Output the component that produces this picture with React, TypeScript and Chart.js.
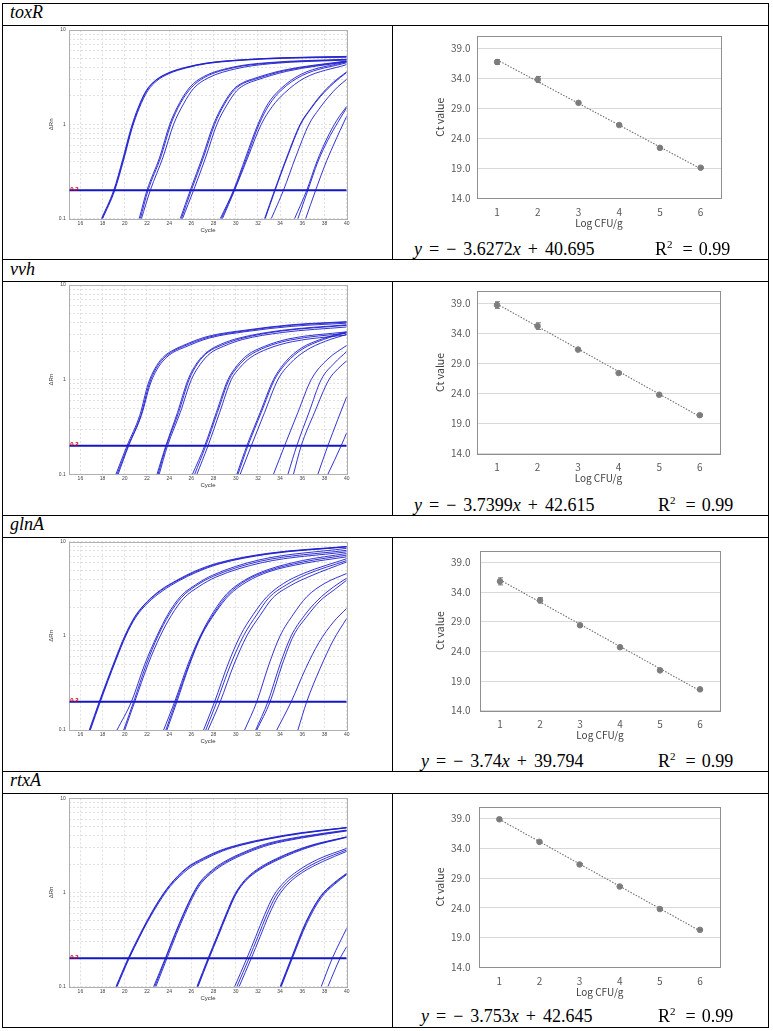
import React, { useEffect, useRef } from 'react';
import { Chart, registerables } from 'chart.js';

Chart.register(...registerables);

type Pt = [number, number];

// ---------------- shared axis values ----------------
const geneNames = ['toxR', 'vvh', 'glnA', 'rtxA'];
const logCfuLevels = [1, 2, 3, 4, 5, 6];
const cycleTickValues = [16, 18, 20, 22, 24, 26, 28, 30, 32, 34, 36, 38, 40];
const cycleMin = 15;
const cycleMax = 40;
const deltaRnGridValues = [0.1, 0.2, 0.3, 0.4, 0.5, 0.6, 0.7, 0.8, 0.9, 1, 2, 3, 4, 5, 6, 7, 8, 9, 10];
const deltaRnLabelled = [0.1, 1, 10];
const thresholdValue = 0.2;
const ctTickValues = [14, 19, 24, 29, 34, 39];
const ctMin = 14;
const ctMax = 41;

// ---------------- amplification curves [cycle, ΔRn] ----------------
const toxRCurves: Pt[][] = [
  [[17.9, 0.1], [19.0, 0.2], [19.8, 0.42], [20.55, 0.9], [21.2, 1.5], [21.95, 2.3], [22.8, 2.95], [23.9, 3.5], [25.4, 4.0], [27.3, 4.45], [30.2, 4.8], [34, 5.05], [40, 5.2]],
  [[17.95, 0.1], [19.05, 0.2], [19.85, 0.42], [20.6, 0.9], [21.25, 1.5], [22.0, 2.3], [22.85, 2.95], [23.95, 3.5], [25.5, 4.0], [27.4, 4.45], [30.3, 4.8], [34, 5.07], [40, 5.25]],
  [[18.0, 0.1], [19.1, 0.2], [19.9, 0.42], [20.65, 0.9], [21.3, 1.48], [22.05, 2.25], [22.9, 2.9], [24.0, 3.45], [25.5, 3.95], [27.4, 4.4], [30.3, 4.75], [34.1, 5.0], [40, 5.15]],
  [[21.3, 0.1], [22.0, 0.2], [23.15, 0.45], [24.05, 1.0], [24.95, 1.7], [25.9, 2.5], [27.1, 3.2], [29.8, 4.05], [32.8, 4.5], [40, 4.9]],
  [[21.4, 0.1], [22.1, 0.2], [23.25, 0.45], [24.15, 1.0], [25.05, 1.7], [26.0, 2.45], [27.2, 3.15], [29.9, 4.0], [32.9, 4.45], [40, 4.85]],
  [[21.5, 0.1], [22.3, 0.2], [23.45, 0.45], [24.4, 1.0], [25.3, 1.65], [26.2, 2.4], [27.5, 3.1], [30.1, 3.9], [33.2, 4.4], [40, 4.8]],
  [[25.0, 0.1], [25.9, 0.2], [27.0, 0.45], [28.0, 1.0], [28.9, 1.65], [29.8, 2.35], [30.6, 2.75], [31.6, 3.05], [34.3, 3.75], [40, 4.7]],
  [[25.1, 0.1], [26.0, 0.2], [27.1, 0.45], [28.1, 1.0], [29.0, 1.65], [29.9, 2.33], [30.7, 2.72], [31.7, 3.0], [34.4, 3.7], [40, 4.65]],
  [[25.2, 0.1], [26.2, 0.2], [27.3, 0.45], [28.3, 1.0], [29.2, 1.6], [30.1, 2.28], [30.9, 2.66], [31.9, 2.95], [34.6, 3.65], [40, 4.6]],
  [[28.6, 0.1], [29.8, 0.2], [30.9, 0.45], [32.0, 1.0], [32.9, 1.65], [34.0, 2.35], [35.9, 3.4], [40, 4.6]],
  [[28.7, 0.1], [29.85, 0.2], [31.0, 0.45], [32.1, 1.0], [33.0, 1.6], [34.1, 2.3], [36.0, 3.3], [40, 4.5]],
  [[28.8, 0.1], [29.9, 0.2], [31.1, 0.45], [32.3, 1.0], [33.3, 1.55], [34.4, 2.15], [36.2, 3.1], [40, 4.3]],
  [[32.6, 0.1], [33.5, 0.2], [34.6, 0.45], [35.8, 1.0], [36.7, 1.45], [37.6, 2.0], [38.8, 2.8], [40, 3.6]],
  [[32.65, 0.1], [33.55, 0.2], [34.65, 0.45], [35.85, 1.0], [36.75, 1.45], [37.65, 1.98], [38.85, 2.75], [40, 3.55]],
  [[33.2, 0.1], [34.3, 0.2], [35.4, 0.45], [36.6, 1.0], [37.5, 1.45], [38.4, 1.98], [39.2, 2.5], [40, 3.0]],
  [[35.3, 0.1], [36.4, 0.2], [37.3, 0.4], [38.2, 0.7], [39.1, 1.1], [40, 1.55]],
  [[35.6, 0.1], [36.5, 0.2], [37.4, 0.4], [38.3, 0.68], [39.2, 1.05], [40, 1.5]],
  [[36.3, 0.1], [37.2, 0.2], [38.0, 0.36], [38.8, 0.6], [39.4, 0.86], [40, 1.22]],
];

const vvhCurves: Pt[][] = [
  [[19.2, 0.1], [20.2, 0.2], [21.35, 0.42], [22.1, 0.9], [22.7, 1.3], [23.4, 1.7], [24.2, 2.0], [25.2, 2.28], [27.4, 2.85], [31, 3.35], [35, 3.8], [40, 4.1]],
  [[19.3, 0.1], [20.3, 0.2], [21.45, 0.42], [22.2, 0.9], [22.8, 1.3], [23.5, 1.68], [24.3, 1.98], [25.3, 2.25], [27.5, 2.8], [31, 3.3], [35, 3.75], [40, 4.05]],
  [[19.4, 0.1], [20.35, 0.2], [21.5, 0.42], [22.3, 0.9], [22.9, 1.28], [23.6, 1.65], [24.4, 1.95], [25.4, 2.2], [27.6, 2.75], [31.2, 3.25], [35, 3.65], [40, 3.95]],
  [[22.9, 0.1], [23.7, 0.2], [24.75, 0.45], [25.7, 1.0], [26.5, 1.5], [27.4, 1.95], [28.6, 2.35], [30.3, 2.75], [34, 3.3], [40, 3.8]],
  [[23.0, 0.1], [23.75, 0.2], [24.85, 0.45], [25.8, 1.0], [26.6, 1.5], [27.5, 1.95], [28.7, 2.3], [30.4, 2.7], [34, 3.25], [40, 3.75]],
  [[23.1, 0.1], [23.85, 0.2], [25.0, 0.45], [26.0, 1.0], [26.8, 1.45], [27.7, 1.9], [28.9, 2.25], [30.6, 2.65], [34.2, 3.15], [40, 3.6]],
  [[26.1, 0.1], [27.2, 0.2], [28.25, 0.45], [29.3, 1.0], [30.1, 1.4], [31.0, 1.8], [32.6, 2.25], [34.8, 2.7], [40, 3.2]],
  [[26.3, 0.1], [27.3, 0.2], [28.35, 0.45], [29.4, 1.0], [30.2, 1.38], [31.1, 1.75], [32.7, 2.2], [34.9, 2.62], [40, 3.1]],
  [[26.5, 0.1], [27.5, 0.2], [28.55, 0.45], [29.6, 1.0], [30.4, 1.35], [31.3, 1.7], [32.9, 2.12], [35.1, 2.52], [40, 2.97]],
  [[30.1, 0.1], [31.0, 0.2], [32.2, 0.45], [33.4, 1.0], [34.5, 1.55], [35.9, 2.15], [37.8, 2.7], [40, 3.2]],
  [[30.2, 0.1], [31.1, 0.2], [32.3, 0.45], [33.5, 1.0], [34.6, 1.52], [36.0, 2.1], [37.9, 2.65], [40, 3.15]],
  [[30.4, 0.1], [31.4, 0.2], [32.6, 0.45], [33.8, 1.0], [34.9, 1.48], [36.3, 2.02], [38.1, 2.55], [40, 3.0]],
  [[33.4, 0.1], [34.4, 0.2], [35.6, 0.45], [36.8, 1.0], [38.3, 1.65], [40, 2.3]],
  [[34.7, 0.1], [35.5, 0.2], [36.6, 0.45], [37.7, 1.0], [38.9, 1.5], [40, 1.98]],
  [[35.2, 0.1], [35.9, 0.2], [37.1, 0.45], [38.4, 1.0], [39.2, 1.3], [40, 1.58]],
  [[37.4, 0.1], [38.3, 0.2], [39.2, 0.38], [40, 0.66]],
  [[38.3, 0.1], [39.5, 0.2], [40, 0.275]],
];

const glnACurves: Pt[][] = [
  [[16.8, 0.1], [17.7, 0.2], [19.1, 0.55], [20.0, 1.0], [20.9, 1.6], [22.0, 2.3], [23.2, 3.05], [24.7, 3.9], [26.2, 4.8], [28.3, 5.9], [32.8, 7.5], [40, 8.9]],
  [[16.85, 0.1], [17.75, 0.2], [19.15, 0.55], [20.05, 1.0], [20.95, 1.6], [22.05, 2.3], [23.3, 3.05], [24.8, 3.9], [26.3, 4.75], [28.4, 5.85], [32.9, 7.45], [40, 8.85]],
  [[16.9, 0.1], [17.8, 0.2], [19.2, 0.55], [20.1, 1.0], [21.0, 1.58], [22.1, 2.25], [23.4, 3.0], [24.9, 3.85], [26.4, 4.7], [28.5, 5.8], [33, 7.4], [40, 8.8]],
  [[19.3, 0.1], [20.6, 0.2], [21.8, 0.5], [22.9, 1.0], [23.9, 1.7], [25.0, 2.6], [26.4, 3.5], [27.9, 4.4], [32.1, 6.4], [40, 8.5]],
  [[19.9, 0.1], [20.8, 0.2], [21.95, 0.5], [23.0, 1.0], [24.0, 1.68], [25.1, 2.55], [26.5, 3.45], [28.0, 4.3], [32.2, 6.2], [40, 8.1]],
  [[20.0, 0.1], [20.9, 0.2], [22.1, 0.5], [23.2, 1.0], [24.2, 1.65], [25.3, 2.5], [26.7, 3.35], [28.2, 4.2], [32.4, 6.0], [40, 7.8]],
  [[23.5, 0.1], [24.5, 0.2], [25.7, 0.5], [26.8, 1.0], [28.0, 1.8], [29.2, 2.8], [30.8, 3.9], [32.8, 5.0], [36, 6.3], [40, 7.5]],
  [[23.7, 0.1], [24.6, 0.2], [25.8, 0.5], [26.85, 1.0], [28.1, 1.78], [29.3, 2.75], [30.9, 3.85], [32.9, 4.9], [36.1, 6.1], [40, 7.2]],
  [[23.8, 0.1], [24.7, 0.2], [25.85, 0.5], [26.9, 1.0], [28.15, 1.75], [29.4, 2.7], [31.0, 3.75], [33.0, 4.8], [36.2, 5.9], [40, 6.9]],
  [[27.1, 0.1], [28.1, 0.2], [29.3, 0.5], [30.4, 1.0], [31.6, 1.7], [32.8, 2.6], [34.3, 3.6], [36.1, 4.6], [40, 6.6]],
  [[27.3, 0.1], [28.3, 0.2], [29.55, 0.5], [30.7, 1.0], [31.9, 1.68], [33.0, 2.55], [34.6, 3.5], [36.4, 4.5], [40, 6.3]],
  [[27.5, 0.1], [28.6, 0.2], [29.85, 0.5], [31.0, 1.0], [32.2, 1.65], [33.3, 2.5], [34.9, 3.4], [36.7, 4.3], [40, 6.1]],
  [[30.8, 0.1], [31.9, 0.2], [33.0, 0.5], [34.0, 1.0], [35.2, 1.7], [36.4, 2.6], [38.0, 3.6], [40, 4.6]],
  [[31.8, 0.1], [32.9, 0.2], [34.0, 0.5], [35.0, 1.0], [36.2, 1.65], [37.4, 2.4], [38.8, 3.3], [40, 4.1]],
  [[31.9, 0.1], [33.1, 0.2], [34.2, 0.5], [35.2, 1.0], [36.4, 1.6], [37.6, 2.35], [38.9, 3.1], [40, 3.9]],
  [[33.7, 0.1], [35.0, 0.2], [36.3, 0.45], [37.5, 0.85], [38.8, 1.4], [40, 1.96]],
  [[35.6, 0.1], [36.4, 0.2], [37.6, 0.45], [38.8, 0.9], [40, 1.53]],
];

const rtxACurves: Pt[][] = [
  [[19.2, 0.1], [20.3, 0.2], [21.2, 0.33], [22.0, 0.5], [23.0, 0.8], [24.0, 1.18], [25.5, 1.8], [27.0, 2.3], [28.6, 2.8], [30.4, 3.25], [32.8, 3.75], [35.8, 4.3], [40, 4.9]],
  [[19.25, 0.1], [20.35, 0.2], [21.25, 0.33], [22.05, 0.5], [23.05, 0.8], [24.05, 1.18], [25.6, 1.8], [27.1, 2.28], [28.7, 2.78], [30.5, 3.22], [32.9, 3.72], [35.9, 4.27], [40, 4.88]],
  [[19.3, 0.1], [20.4, 0.2], [21.3, 0.33], [22.1, 0.5], [23.1, 0.79], [24.1, 1.16], [25.7, 1.77], [27.2, 2.25], [28.8, 2.75], [30.6, 3.2], [33.0, 3.7], [36.0, 4.25], [40, 4.85]],
  [[22.6, 0.1], [23.65, 0.2], [24.5, 0.36], [25.3, 0.6], [26.2, 1.0], [26.8, 1.3], [27.8, 1.7], [28.9, 2.1], [30.8, 2.7], [32.8, 3.3], [35.8, 3.9], [40, 4.6]],
  [[22.7, 0.1], [23.7, 0.2], [24.55, 0.36], [25.35, 0.6], [26.25, 1.0], [26.85, 1.29], [27.9, 1.69], [29.0, 2.08], [30.9, 2.67], [32.9, 3.25], [35.9, 3.85], [40, 4.55]],
  [[22.8, 0.1], [23.8, 0.2], [24.65, 0.36], [25.45, 0.6], [26.35, 1.0], [26.95, 1.28], [28.0, 1.67], [29.1, 2.05], [31.0, 2.63], [33.0, 3.2], [36.0, 3.8], [40, 4.5]],
  [[26.5, 0.1], [27.5, 0.2], [28.3, 0.34], [29.1, 0.58], [29.9, 0.95], [30.8, 1.35], [31.9, 1.75], [33.7, 2.3], [36.5, 3.1], [40, 3.9]],
  [[26.55, 0.1], [27.55, 0.2], [28.35, 0.34], [29.15, 0.58], [29.95, 0.95], [30.85, 1.34], [32.0, 1.74], [33.8, 2.28], [36.6, 3.08], [40, 3.88]],
  [[26.6, 0.1], [27.6, 0.2], [28.4, 0.34], [29.2, 0.58], [30.0, 0.95], [30.9, 1.33], [32.1, 1.73], [33.9, 2.25], [36.7, 3.05], [40, 3.85]],
  [[29.9, 0.1], [31.0, 0.2], [31.8, 0.34], [32.6, 0.58], [33.4, 0.92], [34.4, 1.3], [35.6, 1.7], [37.4, 2.25], [40, 2.94]],
  [[30.1, 0.1], [31.2, 0.2], [32.0, 0.34], [32.8, 0.58], [33.6, 0.91], [34.6, 1.28], [35.8, 1.66], [37.6, 2.18], [40, 2.83]],
  [[30.3, 0.1], [31.4, 0.2], [32.2, 0.34], [33.0, 0.58], [33.8, 0.9], [34.8, 1.26], [36.0, 1.63], [37.8, 2.12], [40, 2.73]],
  [[34.0, 0.1], [35.0, 0.2], [36.3, 0.48], [37.6, 0.9], [38.8, 1.25], [40, 1.6]],
  [[34.05, 0.1], [35.05, 0.2], [36.35, 0.48], [37.65, 0.9], [38.85, 1.24], [40, 1.58]],
  [[34.1, 0.1], [35.1, 0.2], [36.4, 0.47], [37.7, 0.88], [38.9, 1.22], [40, 1.55]],
  [[37.7, 0.1], [38.7, 0.2], [40, 0.417]],
  [[38.3, 0.1], [39.4, 0.2], [40, 0.266]],
];

// ---------------- standard curves ----------------
const toxRCt = [36.7, 33.8, 29.9, 26.2, 22.4, 19.1];
const toxRErr = [0.4, 0.5, 0.15, 0.15, 0.15, 0.1];
const toxRTrend = [37.07, 18.93];
const vvhCt = [38.7, 35.2, 31.3, 27.4, 23.8, 20.4];
const vvhErr = [0.55, 0.55, 0.15, 0.15, 0.15, 0.15];
const vvhTrend = [38.88, 20.18];
const glnACt = [35.8, 32.6, 28.4, 24.7, 20.8, 17.6];
const glnAErr = [0.6, 0.45, 0.15, 0.15, 0.2, 0.1];
const glnATrend = [36.05, 17.35];
const rtxACt = [38.9, 35.1, 31.3, 27.6, 23.8, 20.3];
const rtxAErr = [0.2, 0.15, 0.15, 0.15, 0.15, 0.1];
const rtxATrend = [38.89, 20.13];

const slopes = ['3.6272', '3.7399', '3.74', '3.753'];
const intercepts = ['40.695', '42.615', '39.794', '42.645'];
const r2Values = ['0.99', '0.99', '0.99', '0.99'];

const curveSets = [toxRCurves, vvhCurves, glnACurves, rtxACurves];
const ctSets = [toxRCt, vvhCt, glnACt, rtxACt];
const errSets = [toxRErr, vvhErr, glnAErr, rtxAErr];
const trendSets = [toxRTrend, vvhTrend, glnATrend, rtxATrend];

// ---------------- layout (page pixels) ----------------
interface Geo {
  hTop: number; cTop: number; cBot: number;
  ampT: number; ampB: number;
  stdL: number; stdR: number; stdT: number; stdB: number;
  eqBase: number; eqX: number; r2X: number;
}
const rowGeo: Geo[] = [
  { hTop: 3, cTop: 25, cBot: 259.5, ampT: 30, ampB: 218.7, stdL: 476.7, stdR: 721, stdT: 34, stdB: 198.3, eqBase: 255, eqX: 414, r2X: 655 },
  { hTop: 259.5, cTop: 281.5, cBot: 515, ampT: 285, ampB: 474.3, stdL: 476.7, stdR: 720, stdT: 289.3, stdB: 453.7, eqBase: 511.3, eqX: 414, r2X: 658 },
  { hTop: 515, cTop: 537, cBot: 771, ampT: 541.7, ampB: 730, stdL: 480, stdR: 720, stdT: 545.3, stdB: 710.7, eqBase: 767.3, eqX: 421, r2X: 658 },
  { hTop: 771, cTop: 793, cBot: 1027, ampT: 798.3, ampB: 986.7, stdL: 479.3, stdR: 720, stdT: 801.7, stdB: 967.3, eqBase: 1022.3, eqX: 421, r2X: 658 },
];

const ampFont = '"Liberation Sans", Arial, sans-serif';
const stdFont = '"Noto Sans CJK KR", "Noto Sans", sans-serif';
const serifFont = '"Liberation Serif", "Times New Roman", serif';

const framePlugin = (color: string) => ({
  id: 'frame',
  beforeDatasetsDraw(chart: any) {
    const { ctx, chartArea } = chart;
    ctx.save();
    ctx.strokeStyle = color;
    ctx.lineWidth = 1;
    ctx.strokeRect(Math.round(chartArea.left) + 0.5, Math.round(chartArea.top) + 0.5,
      Math.round(chartArea.right) - Math.round(chartArea.left), Math.round(chartArea.bottom) - Math.round(chartArea.top));
    ctx.restore();
  },
});

const thresholdLabelPlugin = {
  id: 'thrLabel',
  afterDatasetsDraw(chart: any) {
    const { ctx, chartArea } = chart;
    const y = chart.scales.y.getPixelForValue(thresholdValue);
    ctx.save();
    ctx.fillStyle = '#c00000';
    ctx.font = `bold 6px ${ampFont}`;
    ctx.textAlign = 'left';
    ctx.textBaseline = 'alphabetic';
    ctx.fillText(String(thresholdValue), chartArea.left + 1, y + 0.5);
    ctx.restore();
  },
};

const errorBarPlugin = (errs: number[]) => ({
  id: 'errbars',
  afterDatasetsDraw(chart: any) {
    const meta = chart.getDatasetMeta(0);
    const ys = chart.scales.y;
    const ctx = chart.ctx;
    ctx.save();
    ctx.strokeStyle = '#7a7a7a';
    ctx.lineWidth = 1;
    meta.data.forEach((el: any, i: number) => {
      const v = chart.data.datasets[0].data[i].y;
      const y1 = ys.getPixelForValue(v + errs[i]);
      const y2 = ys.getPixelForValue(v - errs[i]);
      const x = Math.round(el.x) + 0.5;
      ctx.beginPath();
      ctx.moveTo(x, y1); ctx.lineTo(x, y2);
      ctx.moveTo(x - 2.5, y1); ctx.lineTo(x + 2.5, y1);
      ctx.moveTo(x - 2.5, y2); ctx.lineTo(x + 2.5, y2);
      ctx.stroke();
    });
    ctx.restore();
  },
});

function AmpPlot({ curves, g }: { curves: Pt[][]; g: Geo }) {
  const ref = useRef<HTMLCanvasElement>(null);
  const left = 3;
  const width = 388;
  const top = Math.round(g.ampT) - 10;
  const height = Math.round(g.cBot) - 1 - top;
  useEffect(() => {
    const cl = 69.3 - left;
    const cr = 346.7 - left;
    const ct = g.ampT - top;
    const cb = g.ampB - top;
    const tick = 5;
    const ttl = 6;
    const tLH = ttl * 1.2;
    const kLH = tick * 1.2;
    const padLeft = (51.7 - left) - tLH / 2;
    const yW = cl - padLeft;
    const xH = 11.5 + tLH / 2;
    const datasets: any[] = curves.map((c) => ({
      data: c.map(([x, y]) => ({ x, y })),
      showLine: true,
      borderColor: 'rgba(30,30,205,0.9)',
      borderWidth: 1,
      pointRadius: 0,
      cubicInterpolationMode: 'monotone',
      fill: false,
    }));
    datasets.push({
      data: [{ x: cycleMin, y: thresholdValue }, { x: cycleMax, y: thresholdValue }],
      showLine: true,
      borderColor: '#1414c8',
      borderWidth: 2,
      pointRadius: 0,
    });
    const chart = new Chart(ref.current as HTMLCanvasElement, {
      type: 'scatter',
      data: { datasets },
      options: {
        animation: false,
        responsive: false,
        events: [],
        layout: { padding: { left: padLeft, right: width - cr, top: ct, bottom: height - cb - xH } },
        plugins: { legend: { display: false }, tooltip: { enabled: false } },
        scales: {
          x: {
            type: 'linear', min: cycleMin, max: cycleMax,
            afterBuildTicks: (s: any) => { s.ticks = cycleTickValues.map((v) => ({ value: v })); },
            afterFit: (s: any) => { s.height = xH; },
            grid: { color: '#e0e0e0', drawTicks: false },
            border: { display: false, dash: [2, 2] },
            ticks: { autoSkip: false, maxRotation: 0, padding: 4.5 - kLH / 2, font: { size: tick, family: ampFont }, color: '#444' },
            title: { display: true, text: 'Cycle', padding: 0, font: { size: ttl, family: ampFont }, color: '#333' },
          },
          y: {
            type: 'logarithmic', min: 0.1, max: 10,
            afterBuildTicks: (s: any) => { s.ticks = deltaRnGridValues.map((v) => ({ value: v })); },
            afterFit: (s: any) => { s.width = yW; },
            grid: { color: '#e0e0e0', drawTicks: false },
            border: { display: false, dash: [2, 2] },
            ticks: {
              autoSkip: false, padding: cl - (65.7 - left),
              font: { size: tick, family: ampFont }, color: '#444',
              callback: (v: any) => (deltaRnLabelled.includes(Number(v)) ? String(v) : ''),
            },
            title: { display: true, text: 'ΔRn', padding: 0, font: { size: ttl, family: ampFont }, color: '#333' },
          },
        },
      } as any,
      plugins: [framePlugin('#b0b0b0'), thresholdLabelPlugin],
    });
    return () => chart.destroy();
  }, []);
  return <canvas ref={ref} width={width} height={height} style={{ position: 'absolute', left, top, width, height }} />;
}

function StdPlot({ ct, errs, trend, g }: { ct: number[]; errs: number[]; trend: number[]; g: Geo }) {
  const ref = useRef<HTMLCanvasElement>(null);
  const left = 393;
  const width = 375;
  const top = Math.round(g.stdT) - 10;
  const height = Math.round(g.cBot - 21) - top;
  useEffect(() => {
    const cl = g.stdL - left;
    const cr = g.stdR - left;
    const ctp = g.stdT - top;
    const cb = g.stdB - top;
    const tickSize = 10;
    const yTitleSize = 10.5;
    const xTitleSize = 10;
    const padLeft = (440.3 - left) - (yTitleSize * 1.2) / 2;
    const yW = cl - padLeft;
    const xH = 25 + (xTitleSize * 1.2) / 2;
    const chart = new Chart(ref.current as HTMLCanvasElement, {
      type: 'scatter',
      data: {
        datasets: [
          {
            data: logCfuLevels.map((x, i) => ({ x, y: ct[i] })),
            pointRadius: 2.8,
            pointBackgroundColor: '#7f7f7f',
            pointBorderColor: '#7f7f7f',
            showLine: false,
          },
          {
            data: [{ x: logCfuLevels[0], y: trend[0] }, { x: logCfuLevels[logCfuLevels.length - 1], y: trend[1] }],
            showLine: true,
            borderColor: '#6f6f6f',
            borderWidth: 1.1,
            borderDash: [1.5, 1.5],
            pointRadius: 0,
          },
        ],
      },
      options: {
        animation: false,
        responsive: false,
        events: [],
        layout: { padding: { left: padLeft, right: width - cr, top: ctp, bottom: height - cb - xH } },
        plugins: { legend: { display: false }, tooltip: { enabled: false } },
        scales: {
          x: {
            type: 'linear', min: 0.5, max: 6.5,
            afterBuildTicks: (s: any) => { s.ticks = logCfuLevels.map((v) => ({ value: v })); },
            afterFit: (s: any) => { s.height = xH; },
            grid: { display: false, drawTicks: false },
            border: { display: false },
            ticks: { autoSkip: false, maxRotation: 0, padding: 14 - (tickSize * 1.2) / 2, font: { size: tickSize, family: stdFont }, color: '#595959' },
            title: { display: true, text: 'Log CFU/g', padding: 0, font: { size: xTitleSize, family: stdFont }, color: '#404040' },
          },
          y: {
            type: 'linear', min: ctMin, max: ctMax,
            afterBuildTicks: (s: any) => { s.ticks = ctTickValues.map((v) => ({ value: v })); },
            afterFit: (s: any) => { s.width = yW; },
            grid: { color: '#d9d9d9', drawTicks: false },
            border: { display: false },
            ticks: {
              autoSkip: false, padding: g.stdL - 470.5,
              font: { size: tickSize, family: stdFont }, color: '#595959',
              callback: (v: any) => Number(v).toFixed(1),
            },
            title: { display: true, text: 'Ct value', padding: 0, font: { size: yTitleSize, family: stdFont }, color: '#404040' },
          },
        },
      } as any,
      plugins: [framePlugin('#8f8f8f'), errorBarPlugin(errs)],
    });
    return () => chart.destroy();
  }, []);
  return <canvas ref={ref} width={width} height={height} style={{ position: 'absolute', left, top, width, height }} />;
}

function Equation({ i, g }: { i: number; g: Geo }) {
  const top = g.eqBase - 15.1;
  const base: React.CSSProperties = {
    position: 'absolute', top, fontFamily: serifFont, fontSize: 18, lineHeight: '18px', color: '#000', whiteSpace: 'pre',
  };
  return (
    <>
      <div style={{ ...base, left: g.eqX, display: 'flex', gap: 7 }}>
        <span style={{ fontStyle: 'italic' }}>y</span>
        <span>=</span>
        <span>−</span>
        <span>{slopes[i]}<span style={{ fontStyle: 'italic' }}>x</span></span>
        <span>+</span>
        <span>{intercepts[i]}</span>
      </div>
      <div style={{ ...base, left: g.r2X }}>
        R<span style={{ fontSize: 11, position: 'relative', top: -7 }}>2</span>
        <span style={{ marginLeft: 10 }}>=</span>
        <span style={{ marginLeft: 6 }}>{r2Values[i]}</span>
      </div>
    </>
  );
}

export default function App() {
  const hLines = [3, 25, 259, 281, 515, 537, 771, 793, 1027];
  return (
    <div style={{ position: 'absolute', left: 0, top: 0, width: 773, height: 1031, background: '#fff', overflow: 'hidden' }}>
      {hLines.map((y) => (
        <div key={'h' + y} style={{ position: 'absolute', left: 2, top: y, width: 767, height: 1, background: '#000' }} />
      ))}
      <div style={{ position: 'absolute', left: 2, top: 3, width: 1, height: 1025, background: '#000' }} />
      <div style={{ position: 'absolute', left: 768, top: 3, width: 1, height: 1025, background: '#000' }} />
      {rowGeo.map((g, i) => (
        <div key={'v' + i} style={{ position: 'absolute', left: 392, top: Math.round(g.cTop), width: 1, height: Math.round(g.cBot) - Math.round(g.cTop), background: '#000' }} />
      ))}
      {rowGeo.map((g, i) => (
        <React.Fragment key={geneNames[i]}>
          <div style={{ position: 'absolute', left: 10, top: g.hTop, fontFamily: serifFont, fontStyle: 'italic', fontSize: 18, lineHeight: '18px', color: '#000' }}>
            {geneNames[i]}
          </div>
          <AmpPlot curves={curveSets[i]} g={g} />
          <StdPlot ct={ctSets[i]} errs={errSets[i]} trend={trendSets[i]} g={g} />
          <Equation i={i} g={g} />
        </React.Fragment>
      ))}
    </div>
  );
}
